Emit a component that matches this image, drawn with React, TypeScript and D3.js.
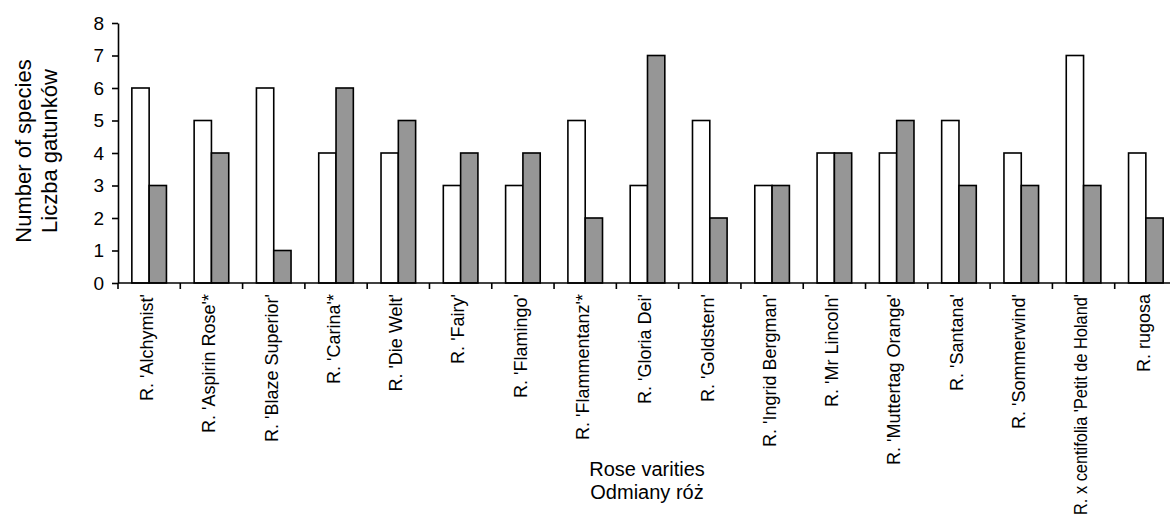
import { useEffect, useRef } from 'react'
import * as d3 from 'd3';

// Rose varieties and number of species per variety (two series)
const varieties = [
  "R. 'Alchymist'", "R. 'Aspirin Rose'*", "R. 'Blaze Superior'", "R. 'Carina'*",
  "R. 'Die Welt'", "R. 'Fairy'", "R. 'Flamingo'", "R. 'Flammentanz'*",
  "R. 'Gloria Dei'", "R. 'Goldstern'", "R. 'Ingrid Bergman'", "R. 'Mr Lincoln'",
  "R. 'Muttertag Orange'", "R. 'Santana'", "R. 'Sommerwind'",
  "R. x centifolia 'Petit de Holand'", "R. rugosa"
];
const whiteSeries = [6, 5, 6, 4, 4, 3, 3, 5, 3, 5, 3, 4, 4, 5, 4, 7, 4];
const graySeries = [3, 4, 1, 6, 5, 4, 4, 2, 7, 2, 3, 4, 5, 3, 3, 3, 2];
const yTicks = [0, 1, 2, 3, 4, 5, 6, 7, 8];
const seriesKeys = ['white', 'gray'];
const seriesColors = { white: '#ffffff', gray: '#969696' };

const App = () => {
  const canvas = useRef(null);

  useEffect(() => {
    const root = d3.select(canvas.current);
    root.selectAll('*').remove();

    const width = 1170, height = 517;
    const marginLeft = 118, plotRight = 1177, plotTop = 23, plotBottom = 283;
    const font = "Arial, 'Liberation Sans', sans-serif";

    const rows = varieties.map((name, i) => ({ name, white: whiteSeries[i], gray: graySeries[i] }));

    const x0 = d3.scaleBand()
      .domain(varieties)
      .range([marginLeft, plotRight])
      .padding(0);

    const x1 = d3.scaleBand()
      .domain(seriesKeys)
      .range([0, x0.bandwidth()])
      .paddingInner(0)
      .paddingOuter(0.8);

    const y = d3.scaleLinear()
      .domain([0, 8])
      .range([plotBottom, plotTop]);

    const svg = root.append('svg')
      .attr('width', width)
      .attr('height', height)
      .attr('viewBox', [0, 0, width, height])
      .style('position', 'absolute')
      .style('left', 0)
      .style('top', 0)
      .style('background', '#fff');

    // Bars
    svg.append('g')
      .selectAll('g')
      .data(rows)
      .join('g')
      .attr('transform', (d) => `translate(${x0(d.name)},0)`)
      .selectAll('rect')
      .data((d) => seriesKeys.map((k) => ({ key: k, value: d[k] })))
      .join('rect')
      .attr('x', (d) => x1(d.key))
      .attr('y', (d) => y(d.value))
      .attr('width', x1.bandwidth())
      .attr('height', (d) => y(0) - y(d.value))
      .attr('fill', (d) => seriesColors[d.key])
      .attr('stroke', '#000')
      .attr('stroke-width', 1.6);

    // Y axis
    const yAxis = svg.append('g')
      .attr('transform', `translate(${marginLeft},0)`)
      .call(d3.axisLeft(y).tickValues(yTicks).tickFormat(d3.format('d')).tickSizeInner(6).tickSizeOuter(0).tickPadding(8));
    yAxis.select('.domain').attr('stroke-width', 1.6);
    yAxis.selectAll('.tick line').attr('stroke-width', 1.6);
    yAxis.selectAll('text')
      .attr('font-family', font)
      .attr('font-size', 19)
      .attr('fill', '#000');

    // X axis line and boundary ticks
    const boundaries = varieties.map((v) => x0(v));
    svg.append('line')
      .attr('x1', marginLeft).attr('x2', plotRight)
      .attr('y1', y(0)).attr('y2', y(0))
      .attr('stroke', '#000').attr('stroke-width', 1.6);
    svg.append('g')
      .selectAll('line')
      .data(boundaries)
      .join('line')
      .attr('x1', (d) => d).attr('x2', (d) => d)
      .attr('y1', y(0)).attr('y2', y(0) + 6)
      .attr('stroke', '#000').attr('stroke-width', 1.6);

    // Category labels (squeeze any label that would run past the bottom edge)
    const labelTop = y(0) + 11;
    const maxLen = height - labelTop - 2;
    svg.append('g')
      .selectAll('text')
      .data(varieties)
      .join('text')
      .attr('transform', (d) => `translate(${x0(d) + x0.bandwidth() / 2 - 2.5},${labelTop}) rotate(-90)`)
      .attr('text-anchor', 'end')
      .attr('dy', '0.35em')
      .attr('font-family', font)
      .attr('font-size', 18)
      .text((d) => d)
      .each(function () {
        const len = this.getComputedTextLength();
        if (len > maxLen) {
          d3.select(this).attr('textLength', maxLen).attr('lengthAdjust', 'spacingAndGlyphs');
        }
      });

    // Y axis title
    const yTitle = svg.append('text')
      .attr('transform', 'translate(31,151) rotate(-90)')
      .attr('text-anchor', 'middle')
      .attr('font-family', font)
      .attr('font-size', 22);
    yTitle.append('tspan').attr('x', 0).attr('dy', 0).text('Number of species');
    yTitle.append('tspan').attr('x', 0).attr('dy', 26).text('Liczba gatunków');

    // X axis title
    const xTitle = svg.append('text')
      .attr('x', 647)
      .attr('y', 476)
      .attr('text-anchor', 'middle')
      .attr('font-family', font)
      .attr('font-size', 20);
    xTitle.append('tspan').attr('x', 647).attr('dy', 0).text('Rose varities');
    xTitle.append('tspan').attr('x', 647).attr('dy', 23).text('Odmiany róż');

  }, []);

  return <div ref={canvas}></div>;
}

export default App;
